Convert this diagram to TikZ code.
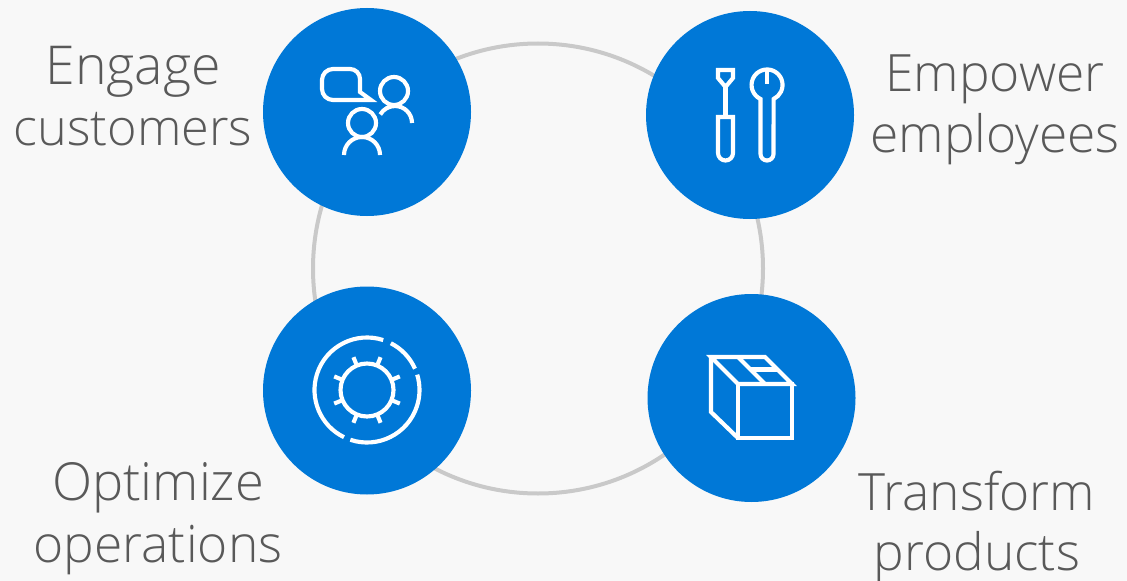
\documentclass[tikz,border=0pt]{standalone}
\usepackage{fontspec}
\setmainfont{Open Sans Light}
\definecolor{bg}{HTML}{F8F8F8}
\definecolor{azure}{HTML}{0078D7}
\definecolor{ringc}{HTML}{C9C9C9}
\definecolor{txt}{HTML}{595959}
\begin{document}
\begin{tikzpicture}[x=0.75pt,y=-0.75pt,
  disc/.style={circle,fill=azure,minimum size=156pt,inner sep=0pt},
  lab/.style={anchor=base,text=txt,font=\fontsize{38.6}{40}\selectfont,inner sep=0pt},
  ico/.style={draw=white,line width=3.1pt,line join=miter}]
\fill[bg] (0,0) rectangle (1127,581);
\useasboundingbox (0,0) rectangle (1127,581);
\draw[ringc,line width=3pt] (538,268.5) circle [radius=225];
\node[disc] (tl) at (367,112) {};
\node[disc] (tr) at (750,115) {};
\node[disc] (bl) at (367,390.5) {};
\node[disc] (br) at (751.5,398) {};
% people icon
\draw[ico] (333,69) -- (350,69) arc[start angle=-90,end angle=0,radius=10] -- (360,92) -- (371,100) -- (333,100) arc[start angle=-270,end angle=-180,radius=11] -- (322,80) arc[start angle=-180,end angle=-90,radius=11] -- cycle;
\draw[ico] (394,91) circle [radius=14];
\draw[ico] (412,123) arc[start angle=0,end angle=-150,radius=17];
\draw[ico] (362,123) circle [radius=14];
\draw[ico] (344,155) arc[start angle=-180,end angle=0,radius=18];
% tools icon
\draw[ico] (718,70) -- (733,70) -- (733,78) -- (725.5,87) -- (718,78) -- cycle;
\draw[ico] (725.5,87) -- (725.5,117);
\draw[ico] (718,117) -- (733,117) -- (733,153) arc[start angle=0,end angle=180,radius=7.5] -- cycle;
\draw[ico] (760.5,99) arc[start angle=-245,end angle=65,radius=15.5] -- (773.5,154) arc[start angle=0,end angle=180,radius=6.5] -- cycle;
\draw[ico] (767,70) -- (767,84);
% gear icon
\draw[ico] (367,390) circle [radius=26.5];
\foreach \a in {22.5,67.5,...,337.5}
  \draw[ico] (367,390) ++(\a:26.5) -- ++(\a:9);
\draw[ico] (367,390) ++(-72:52.5) arc[start angle=-72,end angle=-244,radius=52.5];
\draw[ico] (367,390) ++(-251.5:52.5) arc[start angle=-251.5,end angle=-377,radius=52.5];
\draw[ico] (367,390) ++(-24:52.5) arc[start angle=-24,end angle=-63,radius=52.5];
% box icon
\draw[ico] (711,357) -- (765,357) -- (792,384) -- (738,384) -- cycle;
\draw[ico] (738,384) -- (792,384) -- (792,438) -- (738,438) -- cycle;
\draw[ico] (711,357) -- (711,412) -- (738,438);
\draw[ico] (738,357) -- (765,384);
\draw[ico] (750,369.5) -- (778,369.5);
% labels
\node[lab,font=\fontsize{40.2}{40}\selectfont] (l1a) at (133,85) {Engage};
\node[lab,font=\fontsize{37.8}{40}\selectfont] (l1b) at (133,146) {customers};
\node[lab] (l2a) at (995,92) {Empower};
\node[lab] (l2b) at (995,153) {employees};
\node[lab,font=\fontsize{39.3}{40}\selectfont] (l3a) at (158,500) {Optimize};
\node[lab] (l3b) at (158,562) {operations};
\node[lab] (l4a) at (977,510) {Transform};
\node[lab] (l4b) at (977,570) {products};
\end{tikzpicture}
\end{document}
